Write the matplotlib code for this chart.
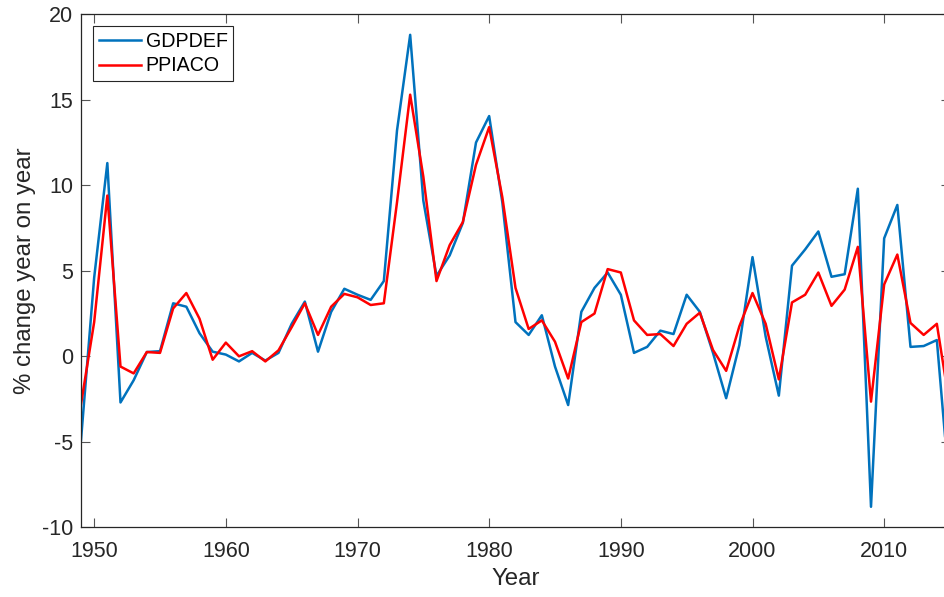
import numpy as np
import matplotlib
matplotlib.use("Agg")
import matplotlib.pyplot as plt

plt.rcParams['font.family'] = ['Liberation Sans', 'DejaVu Sans']
plt.rcParams['axes.unicode_minus'] = False

# annual % change, 1949-2015
years = np.arange(1949, 2016)
gdpdef = [-4.9, 4.6, 11.3, -2.7, -1.4, 0.25, 0.3, 3.1, 2.9, 1.35,
          0.27, 0.1, -0.3, 0.2, -0.25, 0.2, 1.9, 3.2, 0.27, 2.6,
          3.95, 3.6, 3.3, 4.4, 13.2, 18.8, 9.1, 4.7, 5.9, 7.8,
          12.5, 14.05, 9.0, 2.0, 1.25, 2.4, -0.6, -2.85, 2.6, 4.0,
          4.9, 3.6, 0.2, 0.55, 1.5, 1.3, 3.6, 2.6, 0.2, -2.45,
          0.65, 5.8, 1.15, -2.3, 5.3, 6.25, 7.3, 4.65, 4.8, 9.8,
          -8.8, 6.9, 8.85, 0.55, 0.6, 0.95, -8.1]
ppiaco = [-2.8, 2.0, 9.4, -0.6, -1.0, 0.25, 0.2, 2.8, 3.7, 2.2,
          -0.2, 0.8, 0.0, 0.3, -0.3, 0.35, 1.7, 3.1, 1.25, 2.9,
          3.65, 3.45, 3.0, 3.1, 9.0, 15.3, 10.5, 4.4, 6.5, 7.85,
          11.2, 13.4, 9.3, 4.0, 1.6, 2.1, 0.85, -1.3, 2.0, 2.5,
          5.1, 4.9, 2.1, 1.25, 1.3, 0.6, 1.9, 2.55, 0.37, -0.85,
          1.75, 3.7, 1.9, -1.35, 3.15, 3.6, 4.9, 2.95, 3.9, 6.4,
          -2.65, 4.2, 5.95, 1.95, 1.25, 1.9, -3.0]

W, H = 944, 597
fig = plt.figure(figsize=(W / 100, H / 100), dpi=100)
# axes box runs slightly past the right edge of the canvas
ax = fig.add_axes([81 / W, (H - 527.3) / H, (950 - 81) / W, (527.3 - 14.3) / H])

ax.plot(years, gdpdef, color='#0072BD', lw=1.8, label='GDPDEF')
ax.plot(years, ppiaco, color='#FF0000', lw=1.8, label='PPIACO')

ax.set_xlim(1949, 2015)
ax.set_ylim(-10, 20)
ax.set_xticks(np.arange(1950, 2011, 10))
ax.set_yticks(np.arange(-10, 21, 5))

axcol = '#262626'
for s in ax.spines.values():
    s.set_color(axcol)
    s.set_linewidth(0.9)
ax.tick_params(direction='in', length=6.3, width=0.8, color='#555555',
               top=True, right=True, labelsize=15.5, labelcolor=axcol)
ax.tick_params(axis='x', pad=10)
ax.tick_params(axis='y', pad=5.5)

ax.set_xlabel('Year', fontsize=17.3, color=axcol, labelpad=4)
ax.set_ylabel('% change year on year', fontsize=17.3, color=axcol, labelpad=4.5)

leg = ax.legend(loc='upper left', bbox_to_anchor=(92.7 / W, 1 - 25.7 / H),
                bbox_transform=fig.transFigure, borderaxespad=0,
                fontsize=14.1, handlelength=2.15, handletextpad=0.25,
                borderpad=0.3, labelspacing=0.3, fancybox=False,
                framealpha=1, edgecolor=axcol)
leg.get_frame().set_linewidth(0.8)

fig.savefig('out.png', dpi=100)
